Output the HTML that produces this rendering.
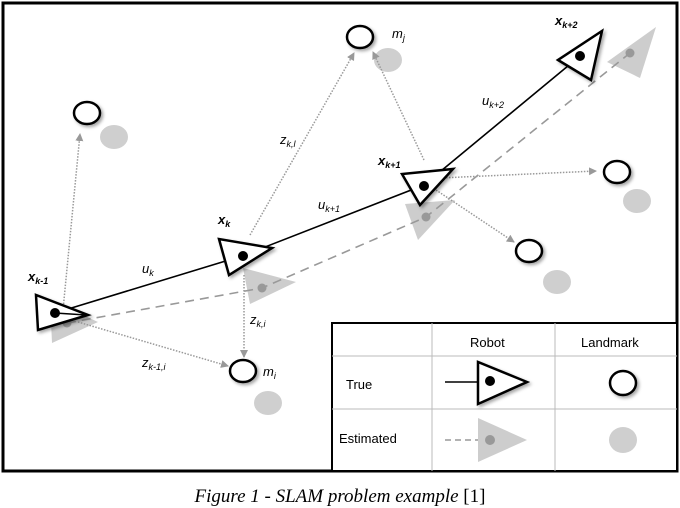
<!DOCTYPE html>
<html><head><meta charset="utf-8"><style>
html,body{margin:0;padding:0;background:#fff;}
svg{display:block;}
text{font-family:"Liberation Sans",sans-serif;}
text.cap{font-family:"Liberation Serif",serif;}
</style></head><body>
<svg width="680" height="508" viewBox="0 0 680 508" xmlns="http://www.w3.org/2000/svg">
<defs>
<marker id="ag" markerWidth="8" markerHeight="8" refX="7" refY="4" orient="auto" markerUnits="userSpaceOnUse">
<path d="M0,0 L8,4 L0,8 Z" fill="#999"/></marker>
<filter id="sh" x="-30%" y="-30%" width="160%" height="160%"><feDropShadow dx="2" dy="2" stdDeviation="1.5" flood-color="#000" flood-opacity="0.35"/></filter>
</defs>
<rect x="3" y="3" width="674" height="468" fill="#fff" stroke="#000" stroke-width="3"/>

<g fill="#cfcfcf">
<ellipse cx="114" cy="137" rx="14" ry="12"/>
<ellipse cx="388" cy="60" rx="14" ry="12"/>
<ellipse cx="637" cy="201" rx="14" ry="12"/>
<ellipse cx="557" cy="282" rx="14" ry="12"/>
<ellipse cx="268" cy="403" rx="14" ry="12"/>
</g>
<g fill="#cdcdcd">
<polygon points="50,300 52,343 98,322"/>
<polygon points="243,268 250,304 296,282"/>
<polygon points="405,204 418,240 455,200"/>
<polygon points="607,62 640,78 656,27"/>
</g>
<polyline points="67,323 262,288 426,217 630,53" fill="none" stroke="#999" stroke-width="1.6" stroke-dasharray="9,6"/>
<g fill="#999"><circle cx="67" cy="323" r="4.5"/><circle cx="262" cy="288" r="4.5"/><circle cx="426" cy="217" r="4.5"/><circle cx="630" cy="53" r="4.5"/></g>

<g stroke="#999" stroke-width="1.5" stroke-dasharray="1.5,1.5" fill="none" marker-end="url(#ag)">
<line x1="63" y1="310" x2="80" y2="134"/>
<line x1="250" y1="235" x2="354" y2="53"/>
<line x1="424" y1="160" x2="373" y2="52"/>
<line x1="440" y1="178" x2="596" y2="171"/>
<line x1="436" y1="190" x2="514" y2="242"/>
<line x1="244" y1="275" x2="244" y2="357"/>
<line x1="78" y1="322" x2="228" y2="366"/>
</g>

<polyline points="55,313 242,256 424,185 580,56" fill="none" stroke="#000" stroke-width="1.6"/>

<g fill="#fff" stroke="#000" stroke-width="2.5" filter="url(#sh)">
<polygon points="36,295 38,330 88,315"/>
<polygon points="219,239 229,275 272,248"/>
<polygon points="402,174 420,205 453,169"/>
<polygon points="558,60 591,80 602,31"/>
</g>
<g fill="#000"><circle cx="55" cy="313" r="5"/><circle cx="243" cy="256" r="5"/><circle cx="424" cy="186" r="5"/><circle cx="580" cy="56" r="5"/></g>
<line x1="55" y1="313" x2="86" y2="315" stroke="#000" stroke-width="1.6"/>

<g fill="#fff" stroke="#000" stroke-width="2.5" filter="url(#sh)">
<ellipse cx="87" cy="113" rx="13" ry="11"/>
<ellipse cx="360" cy="37" rx="13" ry="11"/>
<ellipse cx="617" cy="172" rx="13" ry="11"/>
<ellipse cx="529" cy="251" rx="13" ry="11"/>
<ellipse cx="243" cy="371" rx="13" ry="11"/>
</g>

<g font-size="13" font-style="italic" font-weight="bold" fill="#000">
<text x="28" y="281">x<tspan font-size="9" dy="3">k-1</tspan></text>
<text x="218" y="224">x<tspan font-size="9" dy="3">k</tspan></text>
<text x="378" y="165">x<tspan font-size="9" dy="3">k+1</tspan></text>
<text x="555" y="25">x<tspan font-size="9" dy="3">k+2</tspan></text>
</g>
<g font-size="13" font-style="italic" fill="#000">
<text x="142" y="273">u<tspan font-size="9" dy="3">k</tspan></text>
<text x="318" y="209">u<tspan font-size="9" dy="3">k+1</tspan></text>
<text x="482" y="105">u<tspan font-size="9" dy="3">k+2</tspan></text>
<text x="280" y="144">z<tspan font-size="9" dy="3">k,l</tspan></text>
<text x="250" y="324">z<tspan font-size="9" dy="3">k,i</tspan></text>
<text x="142" y="367">z<tspan font-size="9" dy="3">k-1,i</tspan></text>
<text x="392" y="38">m<tspan font-size="9" dy="3">j</tspan></text>
<text x="263" y="376">m<tspan font-size="9" dy="3">i</tspan></text>
</g>

<rect x="332" y="323" width="345" height="148" fill="#fff" stroke="#000" stroke-width="2"/>
<g stroke="#bbb" stroke-width="1">
<line x1="432" y1="323" x2="432" y2="471"/>
<line x1="555" y1="323" x2="555" y2="471"/>
<line x1="332" y1="356" x2="677" y2="356"/>
<line x1="332" y1="409" x2="677" y2="409"/>
</g>
<g font-size="13" fill="#000">
<text x="470" y="347">Robot</text>
<text x="581" y="347">Landmark</text>
<text x="346" y="389">True</text>
<text x="339" y="443">Estimated</text>
</g>
<line x1="445" y1="382" x2="478" y2="382" stroke="#000" stroke-width="1.6"/>
<polygon points="478,362 478,404 527,382" fill="#fff" stroke="#000" stroke-width="2.5" filter="url(#sh)"/>
<circle cx="490" cy="381" r="5" fill="#000"/>
<ellipse cx="623" cy="383" rx="13" ry="12" fill="#fff" stroke="#000" stroke-width="2.5" filter="url(#sh)"/>
<line x1="445" y1="440" x2="486" y2="440" stroke="#999" stroke-width="1.6" stroke-dasharray="6,4"/>
<polygon points="478,418 478,462 527,440" fill="#cdcdcd"/>
<circle cx="490" cy="440" r="5" fill="#999"/>
<ellipse cx="623" cy="440" rx="14" ry="13" fill="#cfcfcf"/>

<text class="cap" x="340" y="502" text-anchor="middle" font-size="19" font-style="italic" fill="#000">Figure 1 - SLAM problem example <tspan font-style="normal">[1]</tspan></text>
</svg>
</body></html>
